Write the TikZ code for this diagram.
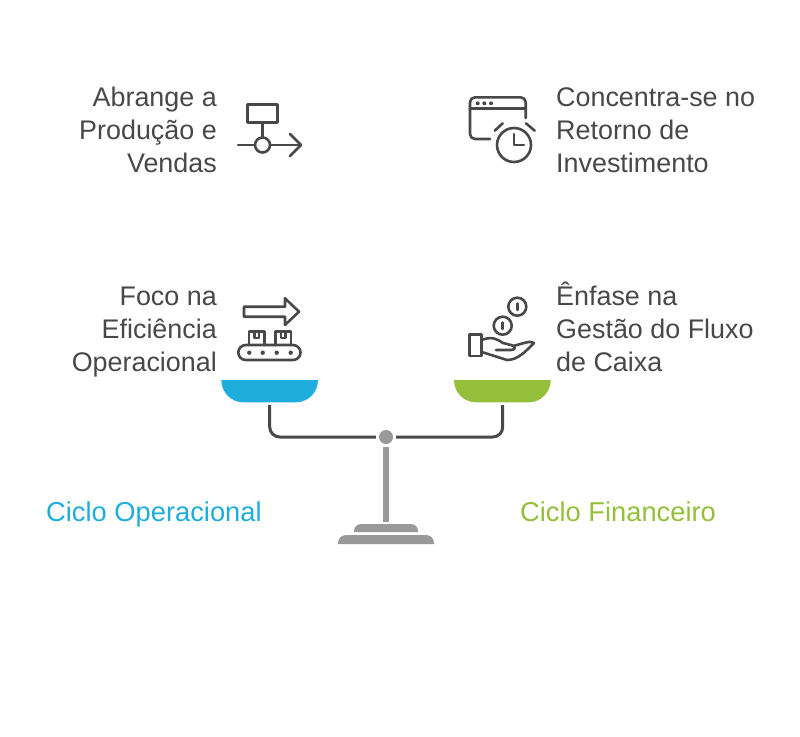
\documentclass[tikz,border=0pt]{standalone}
\usepackage{fontspec}
\setmainfont{Liberation Sans}
\usetikzlibrary{calc}
\definecolor{inkgray}{HTML}{484848}
\definecolor{basegray}{HTML}{999999}
\definecolor{panblue}{HTML}{1EADDC}
\definecolor{pangreen}{HTML}{94BF3A}
\tikzset{
    icon/.style={draw=inkgray, line width=2.6pt, line cap=round, line join=round},
    caption/.style={text=inkgray, font=\fontsize{26.9}{33}\selectfont, inner sep=0pt,
        execute at begin node=\strut, execute at end node=\strut},
    title/.style={font=\fontsize{27.3}{33}\selectfont, inner sep=0pt},
    arm/.style={draw=inkgray, line width=3pt, rounded corners=10pt}
}

\begin{document}
\begin{tikzpicture}[x=1pt, y=-1pt]
        \useasboundingbox (0, 0) rectangle (800, 736);

        \node[caption, anchor=east, align=right] (prod) at (217, 135) {Abrange a\\Produção e\\Vendas};
        \node[caption, anchor=west, align=left] (roi) at (556, 135) {Concentra-se no\\Retorno de\\Investimento};
        \node[caption, anchor=east, align=right] (foco) at (217, 334) {Foco na\\Eficiência\\Operacional};
        \node[caption, anchor=west, align=left] (fluxo) at (556, 332) {Ênfase na\\Gestão do Fluxo\\de Caixa};
        \node[title, text=panblue, anchor=base west] (opcycle) at (46, 521) {Ciclo Operacional};
        \node[title, text=pangreen, anchor=base west] (fincycle) at (520, 521) {Ciclo Financeiro};

        \draw [icon] (247.7, 104.3) rectangle (277.7, 122.7);
        \draw [icon] (262.5, 122.7)--(262.5, 137.5);
        \draw [icon] (262.5, 145) circle (7.5);
        \draw [icon] (238, 145)--(255, 145);
        \draw [icon] (270, 145)--(301, 145);
        \draw [icon] (290, 134)--(301, 145)--(290, 156);

        \draw [icon, rounded corners=5pt] (490, 139)--(470, 139)--(470, 97.3)--(525.7, 97.3)--(525.7, 118);
        \draw [icon] (470, 108.3)--(525.7, 108.3);
        \foreach \dotx in {477.7, 484.3, 491} {
            \fill [inkgray] (\dotx, 103.3) circle (2);
        }
        \draw [icon] (514, 145) circle (17);
        \draw [icon] (514, 134)--(514, 145)--(524, 145);
        \draw [icon] (494.7, 130.7)--(502.7, 123.3);
        \draw [icon] (526, 123.3)--(534.7, 130.7);

        \draw [icon] (244, 306.7)--(285, 306.7)--(285, 298.3)--(299, 311.7)--(285, 325)--(285, 316.7)--(244, 316.7)--cycle;
        \foreach \boxx in {249, 275.7} {
            \draw [icon] (\boxx, 345)--(\boxx, 331.7)--(\boxx+15.3, 331.7)--(\boxx+15.3, 345);
            \draw [icon] (\boxx+5.3, 331.7)--(\boxx+5.3, 338)--(\boxx+10, 338)--(\boxx+10, 331.7);
        }
        \draw [icon, rounded corners=7.5pt] (238.3, 345) rectangle (300.5, 360);
        \foreach \dotx in {249.3, 262.7, 276.7, 290.7} {
            \fill [inkgray] (\dotx, 352.7) circle (2.2);
        }

        \draw [icon] (517.3, 306.7) circle (9);
        \draw [icon] (517.3, 303.5)--(517.3, 310);
        \draw [icon] (502.7, 325.7) circle (9);
        \draw [icon] (502.7, 322.5)--(502.7, 329);
        \draw [icon] (469.5, 334.3) rectangle (481.7, 356);
        \draw [icon] (481.7, 340) .. controls (492, 336) and (497, 339) .. (503, 343)
            -- (511, 345) .. controls (516, 346) and (516, 350) .. (511, 350) -- (496, 350);
        \draw [icon] (513, 346) -- (526, 342.5) .. controls (530, 341.5) and (533, 342) .. (534, 343)
            .. controls (526, 351) and (518, 360) .. (507, 360) -- (481.7, 352);

        \fill [panblue] (221.3, 380) -- (318, 380) to[out=-90, in=0] (296, 402.3) -- (243.3, 402.3) to[out=180, in=-90] (221.3, 380) -- cycle;
        \fill [pangreen] (454, 380) -- (550.7, 380) to[out=-90, in=0] (528.7, 402.3) -- (476, 402.3) to[out=180, in=-90] (454, 380) -- cycle;

        \node[circle, fill=basegray, minimum size=14pt, inner sep=0pt] (pivot) at (386, 437) {};
        \coordinate (armL) at (269.7, 405);
        \coordinate (armR) at (502.7, 405);
        \coordinate (postB) at (386, 522);
        \draw [arm] (armL)--(armL |- pivot)--([xshift=-3pt]pivot.west);
        \draw [arm] (armR)--(armR |- pivot)--([xshift=3pt]pivot.east);
        \draw [draw=basegray, line width=6pt] ([yshift=-3pt]pivot.south)--(postB);

        \fill [basegray] (354, 532) -- (354, 531) to[out=90, in=180] (361, 524) -- (411, 524) to[out=0, in=90] (418, 531) -- (418, 532) -- cycle;
        \fill [basegray] (338, 544) -- (338, 543) to[out=90, in=180] (346, 535) -- (426, 535) to[out=0, in=90] (434, 543) -- (434, 544) -- cycle;
    \end{tikzpicture}
\end{document}
